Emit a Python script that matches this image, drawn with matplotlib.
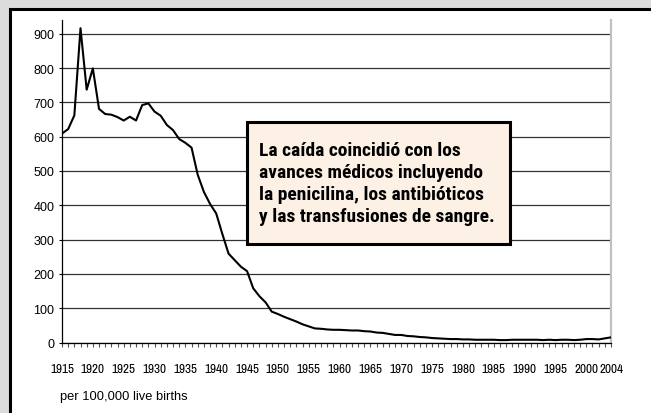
import matplotlib.pyplot as plt
import matplotlib.patches as patches

years = list(range(1915, 2005))
rate = [609, 622, 662, 916, 737, 799, 681, 666, 664, 657,
        647, 658, 647, 692, 697, 673, 661, 634, 619, 593,
        582, 568, 489, 439, 404, 376, 316, 259, 240, 221,
        208, 158, 135, 117, 90, 83, 75, 68, 61, 53,
        47, 41, 40, 38, 37, 37, 36, 35, 35, 33,
        32, 29, 28, 25, 22, 22, 19, 18, 16, 15,
        13, 12, 11, 10, 10, 9, 9, 8, 8, 8,
        8, 7, 7, 8, 8, 8, 8, 8, 7, 8,
        7, 8, 8, 7, 8, 10, 10, 9, 12, 15]
label_years = [1915, 1920, 1925, 1930, 1935, 1940, 1945, 1950, 1955, 1960,
               1965, 1970, 1975, 1980, 1985, 1990, 1995, 2000, 2004]
y_ticks = [0, 100, 200, 300, 400, 500, 600, 700, 800, 900]

note = ("La caída coincidió con los\n"
        "avances médicos incluyendo\n"
        "la penicilina, los antibióticos\n"
        "y las transfusiones de sangre.")

narrow = ['Archivo Narrow', 'DejaVu Sans']
regular = ['Liberation Sans', 'DejaVu Sans']
bold_cond = ['Roboto Condensed', 'DejaVu Sans']

W, H = 651, 414
fig = plt.figure(figsize=(W / 100, H / 100), dpi=100, facecolor='#dcdcdc')

# white panel with black frame, behind everything
fig.patches.append(patches.Rectangle((9.5 / W, -0.1), 1.2, 1 - 9.5 / H + 0.1,
                                     transform=fig.transFigure, facecolor='white',
                                     edgecolor='black', linewidth=2.2, zorder=-5))

ax = fig.add_axes([62 / W, 1 - 343.5 / H, (611 - 62) / W, (343.5 - 21) / H])
ax.set_facecolor('none')
ax.plot(years, rate, color='black', linewidth=1.5, solid_joinstyle='round', zorder=3)

ax.set_xlim(1915, 2004)
ax.set_ylim(0, 940)
ax.set_yticks(y_ticks)
ax.set_yticklabels([str(v) for v in y_ticks], family=regular, fontsize=9)
ax.set_xticks(years, minor=True)
ax.set_xticks(label_years)
ax.set_xticklabels([str(y) for y in label_years], family=narrow, fontsize=9.5)
ax.tick_params(axis='x', which='both', direction='out', length=3, width=0.8,
               color='#555555', pad=12)
ax.tick_params(axis='y', direction='out', length=2.5, width=0.8, pad=3)
ax.grid(axis='y', color='#333333', linewidth=0.9)
ax.set_axisbelow(True)

ax.spines['top'].set_visible(False)
ax.spines['right'].set_color('#c0c0c0')
ax.spines['right'].set_linewidth(1.6)
ax.spines['left'].set_linewidth(0.9)
ax.spines['bottom'].set_linewidth(0.9)

fig.text(60 / W, 1 - 397 / H, 'per 100,000 live births', family=regular,
         fontsize=9.3, ha='left', va='center')

# note box
bx0, bx1, by0, by1 = 247, 510, 123, 245
fig.patches.append(patches.Rectangle((bx0 / W, 1 - by1 / H), (bx1 - bx0) / W, (by1 - by0) / H,
                                     transform=fig.transFigure, facecolor='#fdf1e5',
                                     edgecolor='black', linewidth=2.2, zorder=5))
fig.text(259 / W, 1 - 184 / H, note, family=bold_cond, fontweight='bold', fontsize=14,
         ha='left', va='center', linespacing=1.3, zorder=6)

fig.savefig('out.png', dpi=100, facecolor=fig.get_facecolor())
